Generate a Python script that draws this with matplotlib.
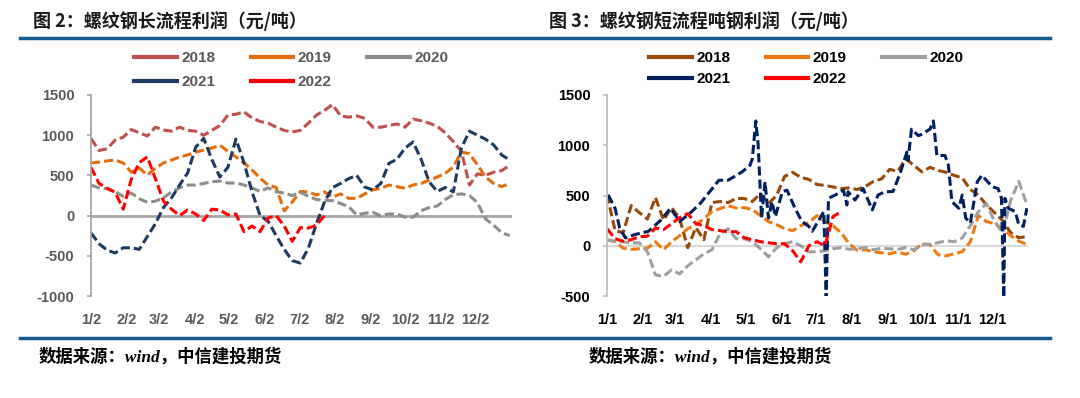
import numpy as np
import matplotlib
matplotlib.use('Agg')
import matplotlib.pyplot as plt
from matplotlib.lines import Line2D

plt.rcParams['font.family'] = ['Liberation Sans', 'Noto Sans CJK SC', 'DejaVu Sans']
plt.rcParams['axes.unicode_minus'] = False

# weekly readings, x = day of year
days_l = np.arange(2, 367, 7)
days_r = np.arange(1, 366, 7)

# 图2 螺纹钢长流程利润
l2018 = [958, 810, 830, 940, 975, 1070, 1030, 990, 1100, 1065, 1050, 1100, 1060, 1050, 1000, 1060, 1120, 1250,
         1260, 1290, 1215, 1170, 1150, 1100, 1060, 1040, 1060, 1150, 1250, 1310, 1380, 1240, 1224, 1240, 1210, 1100,
         1099, 1120, 1140, 1099, 1200, 1180, 1150, 1110, 1030, 920, 800, 380, 520, 500, 540, 560, 625]
l2019 = [655, 665, 680, 690, 655, 540, 590, 505, 590, 655, 690, 730, 755, 790, 815, 840, 875, 800, 730, 655, 567,
         466, 380, 350, 60, 170, 300, 295, 255, 295, 230, 270, 215, 215, 270, 320, 340, 380, 360, 340, 380, 400, 440,
         480, 525, 605, 790, 770, 630, 480, 400, 360, 400]
l2020 = [380, 345, 335, 295, 240, 280, 210, 165, 180, 220, 295, 345, 380, 380, 400, 420, 430, 405, 405, 380, 345,
         300, 345, 295, 280, 250, 290, 240, 200, 190, 185, 150, 110, 10, 30, 40, 0, 20, 20, -20, -20, 60, 100, 120,
         200, 260, 270, 250, 160, -40, -120, -210, -250]
l2021 = [-215, -350, -430, -465, -400, -400, -420, -260, -100, 100, 220, 380, 530, 850, 960, 700, 480, 600, 950,
         660, 295, 0, -70, -250, -420, -560, -590, -405, -100, 170, 350, 400, 460, 500, 355, 320, 400, 650, 700, 840,
         915, 700, 420, 300, 350, 295, 840, 1050, 1000, 950, 880, 755, 690]
l2022 = [600, 400, 340, 290, 80, 450, 660, 730, 460, 180, 80, 0, 70, 20, -60, 80, 70, 10, 20, -200, -130, -200,
         -30, 0, -130, -320, -150, -155, -120, 0]

# 图3 螺纹钢短流程吨钢利润
r2018 = [510, 150, 130, 400, 330, 265, 480, 255, 380, 270, -20, 180, 60, 430, 440, 430, 470, 470, 440, 520, 420,
         500, 690, 730, 680, 660, 610, 600, 585, 570, 575, 560, 590, 640, 665, 760, 740, 865, 800, 735, 780, 750,
         730, 700, 675, 560, 505, 406, 330, 250, 130, 80, 90]
r2019 = [60, 40, -25, -35, -30, -25, 40, -40, 40, 100, 170, 210, 270, 340, 370, 400, 375, 380, 360, 300, 240, 210,
         170, 150, 200, 230, 300, 240, 200, 130, 20, -45, -40, -60, -70, -80, -60, -85, -50, 20, 10, -90, -100, -80,
         -60, 40, 300, 240, 220, 170, 100, 45, 15]
r2020 = [60, 45, 40, 25, 30, -60, -290, -305, -240, -280, -200, -140, -80, -40, 120, 170, 70, 70, 40, -30, -110,
         -20, 20, 40, 0, -60, -60, -50, -30, -20, -35, -30, -20, -40, -25, -30, -35, -20, -40, 10, 15, 30, 50, 40,
         78, 200, 340, 420, 240, 130, 450, 640, 410]
r2021_days = [2, 8, 12, 17, 25, 37, 48, 56, 64, 73, 82, 90, 98, 106, 118, 125, 127, 130, 132, 135, 138, 141, 144,
              147, 153, 157, 164, 170, 176, 179, 189, 191, 193, 199, 206, 209, 210, 216, 223, 231, 236, 242, 249,
              255, 261, 262, 265, 271, 274, 281, 284, 287, 294, 297, 300, 306, 309, 312, 316, 322, 326, 335, 340,
              343, 345, 346, 349, 355, 358, 362, 365]
r2021 = [505, 373, 177, 78, 111, 144, 259, 373, 242, 324, 423, 537, 652, 652, 734, 800, 865, 1242, 1013, 275, 636,
         275, 439, 291, 537, 554, 373, 242, 193, 144, 340, -520, 472, 505, 554, 406, 537, 455, 570, 357, 505, 537,
         540, 717, 931, 849, 1160, 1095, 1110, 1160, 1242, 898, 898, 800, 439, 373, 505, 275, 226, 636, 701, 587,
         570, 472, -520, 472, 373, 340, 209, 193, 373]
r2022 = [170, 70, 45, 60, 90, 95, 177, 160, 220, 280, 320, 220, 200, 160, 150, 140, 140, 80, 60, 40, 30, 20, 20,
         -50, -160, 0, 40, 0, 290, 340]

years = ['2018', '2019', '2020', '2021', '2022']
left_colors = ['#C0504D', '#E46C0A', '#8C8C8C', '#1F3A5F', '#FF0000']
right_colors = ['#984807', '#EE7A14', '#A0A0A0', '#002060', '#FF0000']
left_ticks = [2, 33, 61, 92, 122, 153, 183, 214, 245, 275, 306, 336]
left_labels = ['1/2', '2/2', '3/2', '4/2', '5/2', '6/2', '7/2', '8/2', '9/2', '10/2', '11/2', '12/2']
right_ticks = [1, 32, 60, 91, 121, 152, 182, 213, 244, 274, 305, 335]
right_labels = ['1/1', '2/1', '3/1', '4/1', '5/1', '6/1', '7/1', '8/1', '9/1', '10/1', '11/1', '12/1']

W, H = 1080, 398
fig = plt.figure(figsize=(W / 100, H / 100), dpi=100)
axL = fig.add_axes([91 / W, 1 - 296 / H, 421 / W, 201 / H])
axR = fig.add_axes([607 / W, 1 - 296 / H, 421 / W, 201 / H])

dash = (3, 1.3)
left_series = [(days_l, l2018), (days_l, l2019), (days_l, l2020), (days_l, l2021), (days_l[:len(l2022)], l2022)]
right_series = [(days_r, r2018), (days_r, r2019), (days_r, r2020), (r2021_days, r2021),
                (days_r[:len(r2022)], r2022)]

axL.axhline(0, color='#A6A6A6', lw=2, zorder=1)
axR.axhline(0, color='#D9D9D9', lw=1.5, zorder=1)
for (x, y), c in zip(left_series, left_colors):
    axL.plot(x, y, color=c, lw=2.2, dashes=dash, zorder=2)
for (x, y), c in zip(right_series, right_colors):
    axR.plot(x, y, color=c, lw=2.2, dashes=dash, zorder=2)

axL.set_xlim(2, 368)
axL.set_ylim(-1000, 1500)
axR.set_xlim(1, 366)
axR.set_ylim(-500, 1500)
axL.set_yticks([-1000, -500, 0, 500, 1000, 1500])
axR.set_yticks([-500, 0, 500, 1000, 1500])
axL.set_xticks(left_ticks)
axL.set_xticklabels(left_labels)
axR.set_xticks(right_ticks)
axR.set_xticklabels(right_labels)

for ax, tc, sc in [(axL, '#595959', '#A6A6A6'), (axR, 'black', '#BFBFBF')]:
    for s in ['top', 'right', 'bottom']:
        ax.spines[s].set_visible(False)
    ax.spines['left'].set_color(sc)
    ax.spines['left'].set_linewidth(1.3)
    ax.tick_params(axis='y', length=3, width=1.2, color=sc, pad=9, labelsize=10.5, labelcolor=tc)
    ax.tick_params(axis='x', length=0, pad=12, labelsize=10.5, labelcolor=tc)
    for lab in ax.get_xticklabels() + ax.get_yticklabels():
        lab.set_fontweight('bold')

# legends
def add_legend(ax, colors, x0, y0, lc, rowsp):
    hs = [Line2D([], [], color=c, lw=3) for c in colors]
    order = [0, 3, 1, 4, 2]
    leg = ax.legend([hs[i] for i in order], [years[i] for i in order], ncol=3, loc='upper left',
                    bbox_to_anchor=(x0 / W, 1 - y0 / H), bbox_transform=fig.transFigure, frameon=False,
                    handlelength=2.8, handletextpad=0.3, columnspacing=2.3, labelspacing=rowsp,
                    borderpad=0, borderaxespad=0, prop={'size': 11, 'weight': 'bold'})
    for t in leg.get_texts():
        t.set_color(lc)

add_legend(axL, left_colors, 134, 51, '#595959', 0.65)
add_legend(axR, right_colors, 649, 51, 'black', 0.45)

# titles, rules and source notes
fig.text(33 / W, 1 - 21 / H, '图 2：螺纹钢长流程利润（元/吨）', fontsize=13, weight='bold', va='center',
         color='#1a1a1a', family=['Noto Sans CJK SC'])
fig.text(549 / W, 1 - 21 / H, '图 3：螺纹钢短流程吨钢利润（元/吨）', fontsize=13, weight='bold', va='center',
         color='#1a1a1a', family=['Noto Sans CJK SC'])
for yy in [38, 338]:
    fig.add_artist(Line2D([20 / W, 1050 / W], [1 - yy / H, 1 - yy / H], color='#175A8C', lw=2.5))
for xx in [39, 589]:
    fig.text(xx / W, 1 - 357 / H, '数据来源：wind，中信建投期货', fontsize=12.5, weight='bold', style='italic',
             va='center', family=['Liberation Serif', 'Noto Sans CJK SC'])

fig.savefig('out.png', dpi=100)
